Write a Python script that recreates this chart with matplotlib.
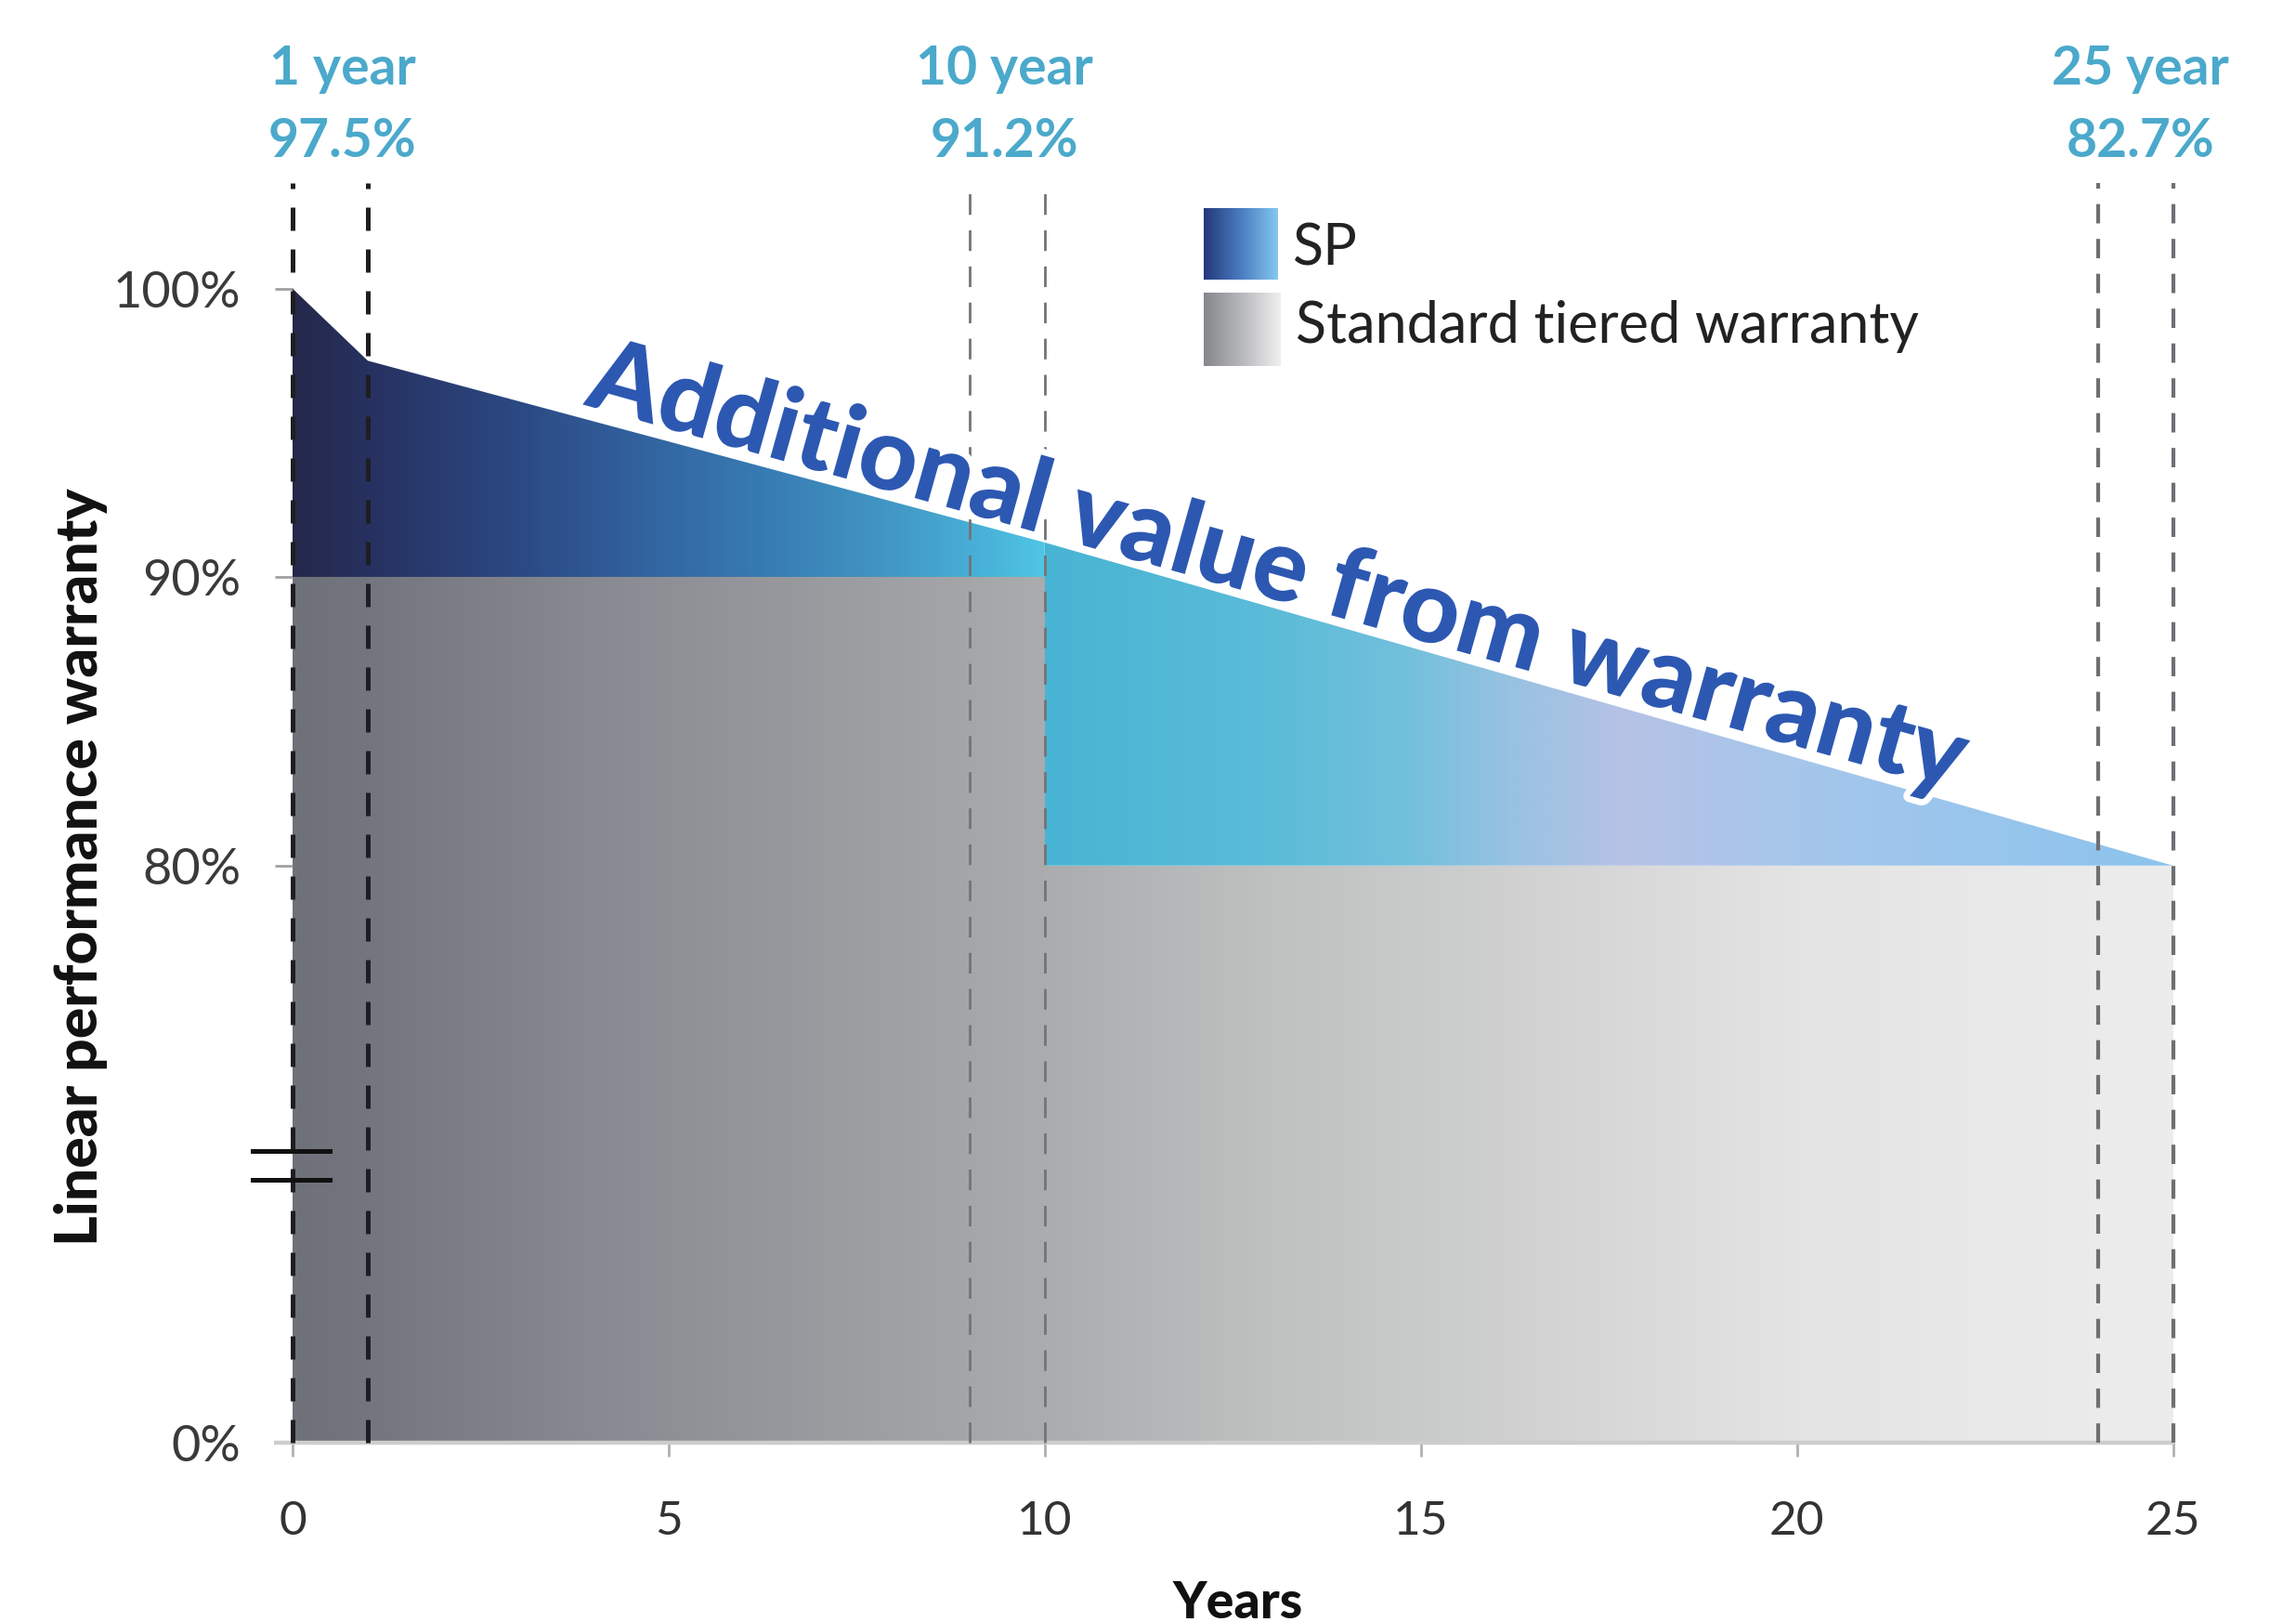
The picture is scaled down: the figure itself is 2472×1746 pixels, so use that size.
import numpy as np
import matplotlib
matplotlib.use("Agg")
import matplotlib.pyplot as plt
from matplotlib.colors import LinearSegmentedColormap
from matplotlib.patches import Polygon
import matplotlib.patheffects as pe
import matplotlib.transforms as mtransforms

plt.rcParams['font.family'] = ['Lato', 'DejaVu Sans']

# ---------------- data ----------------
sp_years = [0, 1, 10, 25]
sp_values = [100, 97.5, 91.2, 80]
std_years = [0, 10, 10, 25]
std_values = [90, 90, 80, 80]
marker_years = [0, 1, 9, 10, 24, 25]
callout_x = [0.66, 9.46, 24.57]
callout_titles = ["1 year", "10 year", "25 year"]
callout_values = ["97.5%", "91.2%", "82.7%"]
xticks = [0, 5, 10, 15, 20, 25]
ytick_values = [0, 80, 90, 100]
ytick_labels = ["0%", "80%", "90%", "100%"]

BREAK_BASE = 60  # 0% is drawn at this level (broken axis)
YTOP = 103.66


def ypos(p):
    return BREAK_BASE if p < BREAK_BASE else p


# gradient colour stops (year, colour)
grey_stops = [(0, '#6e7179'), (1, '#73767e'), (4, '#878a91'), (7, '#9a9b9f'),
              (9, '#a5a6a8'), (10, '#abacae'), (13, '#bfc0c0'), (15, '#c9caca'),
              (18, '#dadada'), (20, '#e4e4e4'), (25, '#ededed')]
sp1_stops = [(0, '#25284a'), (1, '#273160'), (3.15, '#2c4b86'), (4.7, '#3264a0'),
             (6.3, '#387cb4'), (7.9, '#4196c4'), (9.45, '#4ab8dc'), (10, '#50c6e4')]
sp2_stops = [(10, '#48b4d4'), (12.9, '#5abcd8'), (14.8, '#72c0dc'), (16.2, '#98c2e2'),
             (17.7, '#b6c2e6'), (19.6, '#a8c6ea'), (21.05, '#a0c6ec'), (25, '#8cc4ec')]

fig = plt.figure(figsize=(24.72, 17.46), dpi=100)
ax = fig.add_axes([0.12743, 0.11060, 0.81897, 0.77657])


def gradient_fill(ax, stops, x0, x1, y0, y1, poly_xy, zorder):
    pos = [(s[0] - x0) / (x1 - x0) for s in stops]
    cols = [s[1] for s in stops]
    cmap = LinearSegmentedColormap.from_list('g', list(zip(pos, cols)), N=1024)
    arr = np.linspace(0, 1, 1024)[None, :]
    im = ax.imshow(arr, cmap=cmap, extent=[x0, x1, y0, y1], aspect='auto',
                   origin='lower', interpolation='bilinear', zorder=zorder)
    poly = Polygon(poly_xy, closed=True, transform=ax.transData,
                   facecolor='none', edgecolor='none')
    ax.add_patch(poly)
    im.set_clip_path(poly)
    return im


# standard tiered warranty (grey step area)
std_poly = [(std_years[0], ypos(0))] + list(zip(std_years, std_values)) + [(std_years[-1], ypos(0))]
gradient_fill(ax, grey_stops, 0, 25, ypos(0), 90, std_poly, 1)

# SP additional area, piece before the tier change
sp_top_1 = [(x, v) for x, v in zip(sp_years, sp_values) if x <= 10]
poly1 = [(0, std_values[0])] + sp_top_1 + [(10, std_values[1])]
gradient_fill(ax, sp1_stops, 0, 10, 90, 100, poly1, 2)
# piece after tier change
sp_top_2 = [(x, v) for x, v in zip(sp_years, sp_values) if x >= 10]
poly2 = [(10, std_values[2])] + sp_top_2
gradient_fill(ax, sp2_stops, 10, 25, 80, 92, poly2, 2)

# dashed marker lines
styles = {0: ('#1e1e22', 3.6), 1: ('#1e1e22', 3.6), 9: ('#737378', 2.0),
          10: ('#737378', 2.0), 24: ('#6e6e74', 3.0), 25: ('#6e6e74', 3.0)}
for xv in marker_years:
    c, lw = styles[xv]
    ax.plot([xv, xv], [ypos(0), YTOP], color=c, lw=lw,
            linestyle=(0, (5.0, 4.0)) if lw > 2.5 else (0, (8, 6)), zorder=4, clip_on=False)

# bottom axis line
ax.plot([-0.25, 25], [ypos(0), ypos(0)], color='#cdcdcd', lw=3.2, zorder=3,
        clip_on=False, solid_capstyle='butt')

# axis break marks
for yb in [70.1, 69.1]:
    ax.plot([-0.53, 0.5], [yb, yb], color='#111111', lw=3.6, zorder=5, clip_on=False)

ax.set_xlim(0, 25)
ax.set_ylim(BREAK_BASE, YTOP)
for s in ax.spines.values():
    s.set_visible(False)

ax.set_xticks(xticks)
ax.set_xticklabels([str(v) for v in xticks])
ax.set_yticks([ypos(v) for v in ytick_values])
ax.set_yticklabels(ytick_labels)
ax.tick_params(axis='x', length=11, width=2, color='#b0b0b0', pad=34,
               labelsize=37, labelcolor='#333333')
ax.tick_params(axis='y', length=14, width=2, color='#a0a0a0', pad=26,
               labelsize=39, labelcolor='#3a3a3a')

# diagonal annotation
fig.canvas.draw()
p1 = ax.transData.transform((sp_years[1], sp_values[1]))
p2 = ax.transData.transform((sp_years[-1], sp_values[-1]))
ang = np.degrees(np.arctan2(p2[1] - p1[1], p2[0] - p1[0]))
tx = 13.1
ty = np.interp(tx, sp_years, sp_values) + 1.4
ax.text(tx, ty, "Additional value from warranty", rotation=ang - 0.1, rotation_mode='anchor',
        ha='center', va='center', fontsize=79, fontweight='black', color='#2d58b2',
        zorder=6, path_effects=[pe.withStroke(linewidth=10, foreground='white')])

# call-out labels on top
trans = mtransforms.blended_transform_factory(ax.transData, fig.transFigure)
for x, t, v in zip(callout_x, callout_titles, callout_values):
    ax.text(x, 0.9576, t, transform=trans, ha='center', va='center', fontsize=41,
            fontweight='bold', color='#4ba9cb', clip_on=False)
    ax.text(x, 0.9124, v, transform=trans, ha='center', va='center', fontsize=41,
            fontweight='bold', color='#4ba9cb', clip_on=False)

# axis titles
fig.text(0.0352, 0.4656, "Linear performance warranty", rotation=90, ha='center',
         va='center', fontsize=45, fontweight='black', color='#111111')
fig.text(0.5389, 0.0115, "Years", ha='center', va='center', fontsize=40,
         fontweight='black', color='#111111')

# legend with gradient swatches
sp_leg = [(0, '#24387a'), (0.5, '#4a7cc0'), (1, '#84c8f0')]
std_leg = [(0, '#85878c'), (0.5, '#b8b9bc'), (1, '#f0f0f0')]
for rect, stops in [([0.5243, 0.8276, 0.0320, 0.0441], sp_leg),
                    ([0.5243, 0.7743, 0.0335, 0.0452], std_leg)]:
    lax = fig.add_axes(rect)
    cmap = LinearSegmentedColormap.from_list('l', stops, N=256)
    lax.imshow(np.linspace(0, 1, 256)[None, :], cmap=cmap, aspect='auto',
               interpolation='bilinear')
    lax.axis('off')
fig.text(0.5631, 1 - 268 / 1746, "SP", ha='left', va='center', fontsize=44,
         color='#222222')
fig.text(0.5643, 1 - 352 / 1746, "Standard tiered warranty", ha='left', va='center',
         fontsize=44, color='#222222')

fig.savefig("out.png", dpi=100)
